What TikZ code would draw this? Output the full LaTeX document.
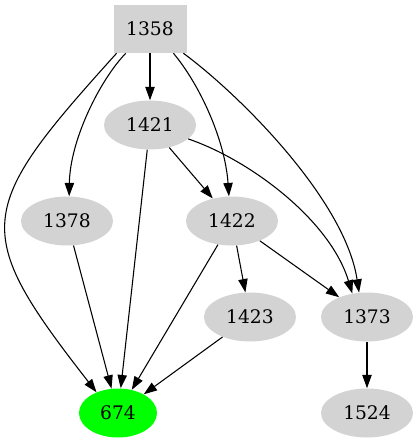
\documentclass[tikz,border=0pt]{standalone}
\usepackage{fontspec}
\setmainfont{DejaVu Serif}
\usetikzlibrary{shapes.geometric,arrows.meta}
\definecolor{lgray}{HTML}{D3D3D3}
\definecolor{gvgreen}{HTML}{00FF00}
\begin{document}
\begin{tikzpicture}[x=0.75pt,y=-0.75pt,
  base/.style={inner sep=0pt, font=\fontsize{14pt}{16pt}\selectfont},
  boxnode/.style={base, rectangle, fill=lgray, minimum width=54.75pt, minimum height=36pt},
  ell/.style={base, ellipse, fill=lgray, minimum width=69pt, minimum height=36.75pt},
  edge/.style={-{Triangle[length=10pt,width=7pt]}, line width=0.8pt}]
\useasboundingbox (0,0) rectangle (418,443);
\node[boxnode] (n1358) at (150,29) {1358};
\node[ell] (n1421) at (150,125) {1421};
\node[ell] (n1378) at (67,221) {1378};
\node[ell] (n1422) at (232,221) {1422};
\node[ell] (n1423) at (250,317) {1423};
\node[ell] (n1373) at (367,317) {1373};
\node[ell, fill=gvgreen, minimum width=58.5pt] (n674) at (118,413) {674};
\node[ell] (n1524) at (367,413) {1524};
\draw[edge] (n1358.216.9) .. controls (-25,210) and (-30,230) .. (n674.136);
\draw[edge] (n1358.225) .. controls (100,80) and (70,140) .. (n1378.85);
\draw[edge] (n1358) -- (n1421);
\draw[edge] (n1358.-46) .. controls (200,85) and (225,140) .. (n1422.97);
\draw[edge] (n1358.-36) .. controls (240,95) and (345,200) .. (n1373.108);
\draw[edge] (n1421) -- (n674);
\draw[edge] (n1421) -- (n1422);
\draw[edge] (n1421.-20) .. controls (250,160) and (330,220) .. (n1373.122);
\draw[edge] (n1378) -- (n674);
\draw[edge] (n1422) -- (n674);
\draw[edge] (n1422) -- (n1423);
\draw[edge] (n1422) -- (n1373);
\draw[edge] (n1423) -- (n674);
\draw[edge] (n1373) -- (n1524);
\end{tikzpicture}
\end{document}
